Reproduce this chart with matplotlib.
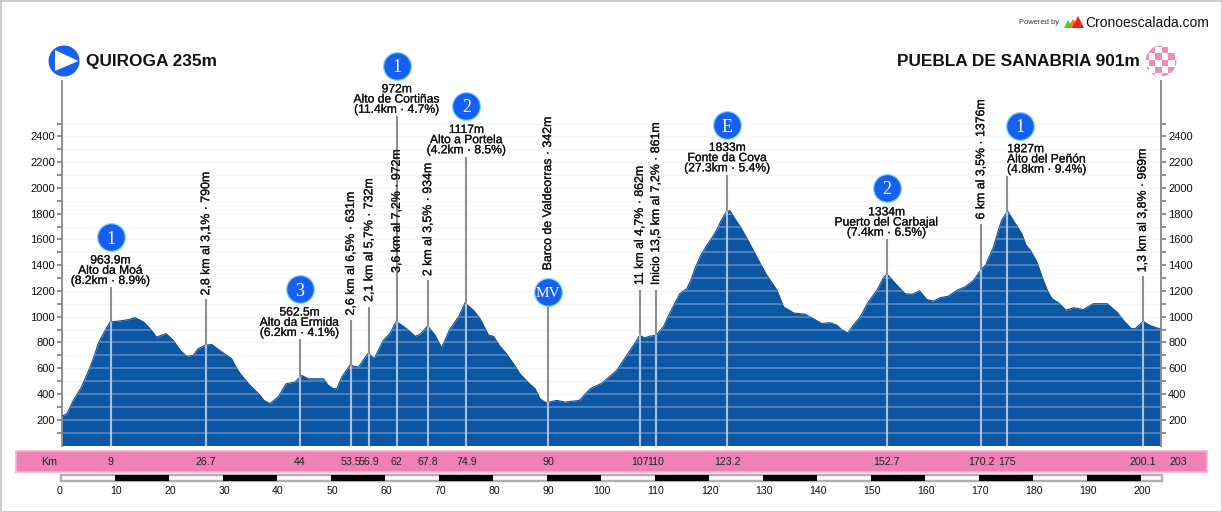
# -*- coding: utf-8 -*-
import matplotlib
matplotlib.use("Agg")
from matplotlib import pyplot as plt
from matplotlib import patheffects as pe
from matplotlib.patches import Circle, Polygon, Rectangle
from matplotlib.transforms import ScaledTranslation

plt.rcParams['font.family'] = ['Liberation Sans', 'DejaVu Sans']

# profile
km = [0, 0.9, 2.1, 3.6, 4.4, 5.2, 6.0, 6.7, 7.3, 8.0, 8.9, 10.7, 12.3, 13.5, 15.1, 16.3, 17.5, 19.3, 20.6, 21.9, 23.1, 24.3,
      25.2, 26.5, 27.7, 29, 30.5, 31.4, 32.2, 33, 34.8, 36.4, 37.4, 38.5, 40.1, 41.5, 43.1, 44.4, 45.6, 48.4, 49.3,
      50.2, 50.9, 51.8, 53.3, 54.9, 56.7, 57.8, 59.5, 60.7, 61.9, 63.8, 65.4, 66.3, 67.7, 69.1, 70.3, 71.7,
      73.6, 74.6, 76.2, 77.4, 79, 79.9, 81, 82.3, 83.5, 84.8, 86.4, 87.6, 88.5, 89.6, 91.6, 93.2, 95.8, 97.8, 100, 102.7,
      105.2, 107, 107.9, 108.9, 110, 111.4, 112.2, 113.3, 114.4, 115.7, 116.5, 117.2, 118.2, 119.4, 120.3, 121.2, 122.1,
      123.1, 123.7, 124.6, 125.6, 126.8, 128, 129.2, 130.5, 131.5,
      132.4, 133.6, 135.5, 137.6, 139.1, 140.7, 142.2, 143.5, 144.4, 145.5, 146.5, 147.8, 149.3, 150.9, 152.1,
      152.8, 154.6, 156.1, 157.4, 158.8, 160.1, 161.3, 162.6, 164.1, 165.7, 167.2, 168.8, 170.2, 171, 172.5, 173.3,
      174, 175.1, 176.5, 177.7, 178.5, 179.3, 180.5, 181.7, 182.5, 183.3, 184.5, 185.9, 187.3, 189.1, 191, 193.5,
      195.3, 196.8, 198, 198.7, 200.2, 201.4, 203.5]
alt = [228, 246, 350, 454, 530, 609, 700, 790, 840, 894, 959, 967, 977, 993, 959, 907, 842, 868, 816, 739, 692, 700,
       752, 778, 785, 744, 700, 674, 610, 557, 467, 402, 350, 324, 381, 480, 492, 544, 518, 518, 467,
       441, 441, 531, 622, 609, 718, 674, 816, 868, 964, 907, 848, 863, 928, 855, 757, 894,
       1011, 1107, 1050, 985, 855, 848, 775, 713, 640, 557, 485, 441, 363, 332, 350, 337, 350, 441, 485, 583,
       739, 855, 835, 850, 855, 925, 1000, 1090, 1179, 1218, 1290, 1374, 1470, 1555, 1610, 1672, 1750,
       1822, 1822, 1760, 1698, 1610, 1516, 1420, 1322, 1260,
       1205, 1076, 1029, 1019, 985, 946, 954, 933, 899, 874, 933, 998, 1115, 1205, 1304,
       1330, 1244, 1179, 1174, 1200, 1135, 1120, 1148, 1159, 1205, 1231, 1283, 1366, 1400, 1542, 1660,
       1750, 1820, 1724, 1646, 1555, 1516, 1426, 1283, 1200, 1140, 1109, 1050, 1070, 1055, 1102, 1102,
       1037, 959, 907, 907, 964, 933, 902]

# marks: km, height where the line stops, label in the strip
mark_km = [9, 26.7, 44, 53.5, 56.9, 62, 67.8, 74.9, 90, 107, 110, 123.2, 152.7, 170.2, 175, 200.1]
mark_top = [1229, 1135, 825, 972, 1073, 2558, 1283, 2240, 1081, 1205, 1205, 2100, 1602, 1719, 2092, 1314]
mark_lab = ['9', '26.7', '44', '53.5', '56.9', '62', '67.8', '74.9', '90', '107', '110', '123.2', '152.7',
            '170.2', '175', '200.1']

# rotated texts
rot_km = [26.7, 53.5, 56.9, 62, 67.8, 90, 107, 110, 170.2, 200.1]
rot_txt = ['2,8 km al 3,1% · 790m', '2,6 km al 6,5% · 631m', '2,1 km al 5,7% · 732m', '3,6 km al 7,2% · 972m',
           '2 km al 3,5% · 934m', 'Barco de Valdeorras · 342m', '11 km al 4,7% · 862m', 'Inicio 13,5 km al 7,2% · 861m',
           '6 km al 3,5% · 1376m', '1,3 km al 3,8% · 969m']
rot_base = [1165, 1010, 1115, 1340, 1315, 1360, 1245, 1245, 1755, 1345]

# climbs
climb_km = [9, 44, 62, 74.9, 175, 123.2, 152.7]
climb_txt = ['963.9m\nAlto da Moá\n(8.2km · 8.9%)', '562.5m\nAlto da Ermida\n(6.2km · 4.1%)',
             '972m\nAlto de Cortiñas\n(11.4km · 4.7%)', '1117m\nAlto a Portela\n(4.2km · 8.5%)',
             '1827m\nAlto del Peñón\n(4.8km · 9.4%)', '1833m\nFonte da Cova\n(27.3km · 5.4%)',
             '1334m\nPuerto del Carbajal\n(7.4km · 6.5%)']
climb_base = [1231, 827, 2560, 2245, 2095, 2105, 1605]

badge_km = [9, 44, 62, 74.9, 90, 123.2, 152.7, 177.3]
badge_alt = [1618, 1213, 2947, 2636, 1190, 2488, 2000, 2481]
badge_txt = ['1', '3', '1', '2', 'MV', 'E', '2', '1']

scale_ticks = list(range(0, 201, 10))
y_major = list(range(200, 2401, 200))
y_minor = list(range(100, 2501, 200))

W, H = 1222, 512
BLUE = '#0b57a4'
GRAY = '#8f8f8f'
PINK = '#ee82b4'
INK = [pe.withStroke(linewidth=0.15, foreground='black')]
fig = plt.figure(figsize=(W / 100, H / 100), dpi=100)


def px_axes(l, t, r, b):
    return fig.add_axes([l / W, 1 - b / H, (r - l) / W, (b - t) / H])


# overlay in pixels for frame, header, strip background
bg = fig.add_axes([0, 0, 1, 1])
bg.set_xlim(0, W)
bg.set_ylim(H, 0)
bg.axis('off')
bg.add_patch(Rectangle((0.5, 0.5), W - 1, H - 1, fc='white', ec='#cccccc', lw=1.4))

# title + icons
bg.text(86, 60, 'QUIROGA 235m', fontsize=12.4, fontweight='bold', va='center_baseline', ha='left', color='#111111')
bg.text(1140, 60, 'PUEBLA DE SANABRIA 901m', fontsize=12.4, fontweight='bold', va='center_baseline', ha='right', color='#111111')
bg.add_patch(Circle((64, 61), 15.5, fc='#1560f0', ec='none'))
bg.add_patch(Polygon([(55, 50), (78.5, 61), (55, 71)], fc='white', ec='none'))
clip = Circle((1161, 61), 15.5, transform=bg.transData, fc='none', ec='none')
bg.add_patch(clip)
for i in range(-3, 3):
    for j in range(-3, 3):
        if (i + j) % 2 == 0:
            r = Rectangle((1161 + i * 6.6 + 0.7, 61 + j * 6.6 - 1.1), 6.6, 6.6, fc='#f08cbc', ec='none')
            bg.add_patch(r)
            r.set_clip_path(clip)

# logo
bg.text(1019, 23, 'Powered by', fontsize=5.4, va='center', ha='left', color='#333333')
bg.add_patch(Polygon([(1064, 28), (1068, 20), (1073, 28)], fc='#35e020', ec='none'))
bg.add_patch(Polygon([(1068, 28), (1073, 19), (1080, 28)], fc='#f57a10', ec='none'))
bg.add_patch(Polygon([(1072, 28), (1078, 16), (1084, 28)], fc='#e8261c', ec='none'))
bg.text(1085, 23, 'Cronoescalada.com', fontsize=10, va='center', ha='left', color='#111111')

# main profile
ax = px_axes(62, 81, 1161, 445.5)
ax.set_xlim(0, 203.5)
ax.set_ylim(0, 2830)
ax.patch.set_alpha(0)
for g in range(100, 2501, 100):
    ax.axhline(g, color='#f6f6f6', lw=1, zorder=1)
fill = ax.fill_between(km, alt, 0, color=BLUE, lw=0, zorder=2)
ax.plot(km, alt, color='#0a4f98', lw=0.8, zorder=3)
# lighter bands only where the fill is
for g in range(100, 2501, 100):
    band = ax.axhline(g, color='#5b8cc4', lw=1.1, zorder=3)
    band.set_clip_path(fill.get_paths()[0], ax.transData)
for k, t in zip(mark_km, mark_top):
    ax.plot([k, k], [0, t], color=GRAY, lw=1.5, zorder=4, solid_capstyle='butt')
for k in mark_km:
    top = 0
    for i in range(len(km) - 1):
        if km[i] <= k <= km[i + 1]:
            top = alt[i] + (alt[i + 1] - alt[i]) * (k - km[i]) / (km[i + 1] - km[i])
    ax.plot([k, k], [0, top], color='#a9c0de', lw=1.5, zorder=5, solid_capstyle='butt')

# axis both sides
for s in ['top', 'bottom']:
    ax.spines[s].set_visible(False)
for s in ['left', 'right']:
    ax.spines[s].set_color(GRAY)
    ax.spines[s].set_linewidth(1.4)
ax.set_xticks([])
ax.set_yticks(y_major)
ax.set_yticks(y_minor, minor=True)
ax.tick_params(axis='y', which='both', left=True, right=True, labelleft=True, labelright=True,
               length=3.6, width=1.4, color=GRAY, labelsize=8, pad=1.5, labelcolor='#111111')

for k, s, b in zip(rot_km, rot_txt, rot_base):
    ax.text(k, b, s, rotation=90, ha='center', va='bottom', fontsize=8.9, color='#111111', zorder=6,
            clip_on=False, path_effects=INK)
for k, s, b in zip(climb_km, climb_txt, climb_base):
    ha = 'left' if k == 175 else 'center'
    ax.text(k, b, s, ha=ha, va='bottom', fontsize=8.7, linespacing=0.8, color='#111111', zorder=6,
            clip_on=False, multialignment=ha, path_effects=INK)
ax.scatter(badge_km, badge_alt, s=400, c='#1560f0', edgecolors='#7fd8ff', linewidths=0.9, zorder=7, clip_on=False)
for k, a, s in zip(badge_km, badge_alt, badge_txt):
    ax.text(k, a, s, color='white', ha='center', va='center_baseline', fontsize=13 if s != 'MV' else 11,
            family='Liberation Serif', zorder=8, clip_on=False)

# km strip
st = px_axes(15.5, 450.5, 1206.5, 471.5)
st.set_xlim((15.5 - 62) / 5.4, (1206.5 - 62) / 5.4)
st.set_ylim(0, 1)
st.set_xticks([])
st.set_yticks([])
st.set_facecolor(PINK)
for s in st.spines.values():
    s.set_color('#f5b4d2')
    s.set_linewidth(1.2)
st.text((49 - 62) / 5.4, 0.47, 'Km', ha='center', va='center', fontsize=7.7, color='#222222')
for k, a in zip(mark_km, mark_lab):
    st.text(k, 0.47, a, ha='center', va='center', fontsize=7.7, color='#222222')
st.text(206.8, 0.47, '203', ha='center', va='center', fontsize=7.7, color='#222222')

# distance scale
sc = px_axes(61, 475, 1161.5, 481)
sc.set_xlim(0, 203.8)
sc.set_ylim(0, 1)
sc.set_yticks([])
for s in sc.spines.values():
    s.set_color('#b0b0b0')
    s.set_linewidth(1.7)
for k in scale_ticks:
    if k % 20 == 10:
        sc.axvspan(k, k + 10, color='black', lw=0, zorder=3)
sc.set_xticks(scale_ticks)
sc.set_xticklabels([str(k) for k in scale_ticks])
sc.tick_params(axis='x', length=0, labelsize=7.6, pad=3.8, labelcolor='#111111')
nudge = ScaledTranslation(1 / 100, 0, fig.dpi_scale_trans)
for lab in sc.get_xticklabels():
    lab.set_transform(lab.get_transform() + nudge)
sc.get_xticklabels()[0].set_ha('right')

fig.savefig('out.png', dpi=100)
